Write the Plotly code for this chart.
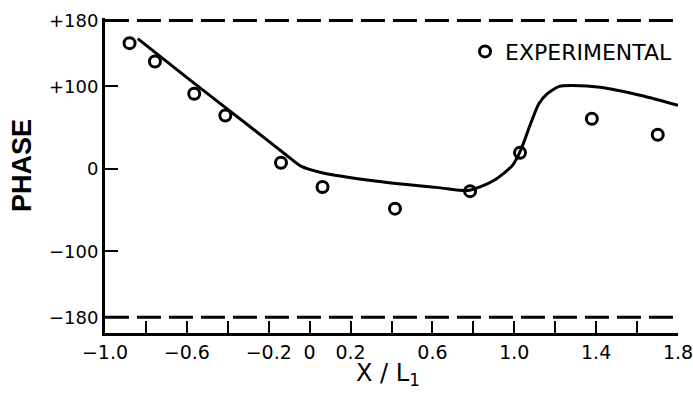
import plotly.graph_objects as go

# Experimental points
exp_x = [-0.88, -0.756, -0.564, -0.412, -0.14, 0.063, 0.417, 0.784, 1.028, 1.379, 1.701]
exp_y = [152.5, 130.3, 91.1, 64.8, 7.5, -22.0, -48.2, -27.0, 19.6, 60.8, 41.4]

# Theoretical curve
curve_x = [-0.84, -0.57, -0.30, -0.11, -0.04, 0.05, 0.33, 0.64, 0.78,
           0.90, 0.99, 1.03, 1.08, 1.12, 1.16, 1.22, 1.28, 1.42, 1.62, 1.80]
curve_y = [158, 105, 53, 16, 3, -4, -15, -23, -26,
           -14, 4, 22, 55, 79, 91, 100, 101, 99, 89, 77]

# Bounds (dashed)
bound_vals = [180, -180]

x_tickvals = [-1.0, -0.6, -0.2, 0.0, 0.2, 0.6, 1.0, 1.4, 1.8]
x_ticktext = ["\u22121.0", "\u22120.6", "\u22120.2", "0", "0.2", "0.6", "1.0", "1.4", "1.8"]
x_minor = [-0.8, -0.4, 0.4, 0.8, 1.2, 1.6]
y_tickvals = [180, 100, 0, -100, -180]
y_ticktext = ["+180", "+100", "0", "\u2212100", "\u2212180"]

x_range = [-1.0, 1.8]
y_range = [-199, 183]

fig = go.Figure()

for b in bound_vals:
    fig.add_trace(go.Scatter(
        x=x_range, y=[b, b], mode="lines",
        line=dict(color="black", width=3, dash="24px,8px"),
        showlegend=False, hoverinfo="skip", cliponaxis=False))

fig.add_trace(go.Scatter(
    x=curve_x, y=curve_y, mode="lines",
    line=dict(color="black", width=3, shape="spline", smoothing=0.7),
    showlegend=False, name="Theory"))

fig.add_trace(go.Scatter(
    x=exp_x, y=exp_y, mode="markers", name="EXPERIMENTAL",
    marker=dict(symbol="circle-open", size=11, color="black", line=dict(width=3, color="black")),
    showlegend=True))

fig.update_layout(
    width=693, height=396,
    margin=dict(l=105, r=15, t=18, b=63, autoexpand=False),
    paper_bgcolor="white", plot_bgcolor="white",
    font=dict(family="DejaVu Sans", color="black"),
    legend=dict(x=1.0, xanchor="right", y=0.96, yanchor="top",
                bgcolor="rgba(0,0,0,0)", font=dict(size=22, family="DejaVu Sans"),
                itemwidth=30),
    xaxis=dict(range=x_range, tickvals=x_tickvals, ticktext=x_ticktext,
               ticks="inside", ticklen=12, tickwidth=2, tickcolor="black",
               minor=dict(tickvals=x_minor, ticks="inside",
                          ticklen=12, tickwidth=2, tickcolor="black", showgrid=False),
               showline=True, linewidth=3, linecolor="black", automargin=False,
               showgrid=False, zeroline=False, ticklabeloverflow="allow",
               tickfont=dict(size=19, family="DejaVu Sans")),
    yaxis=dict(range=y_range, tickvals=y_tickvals, ticktext=y_ticktext,
               ticks="inside", ticklen=13, tickwidth=2, tickcolor="black",
               showline=True, linewidth=3, linecolor="black", automargin=False,
               showgrid=False, zeroline=False,
               tickfont=dict(size=18, family="DejaVu Sans")),
    annotations=[
        dict(text="PHASE", xref="paper", yref="paper", x=(22 - 105) / 573, y=(333 - 166) / 315,
             xanchor="center", yanchor="middle", textangle=-90, showarrow=False,
             font=dict(size=27, family="Liberation Sans", weight="bold")),
        dict(text="X / L<sub>1</sub>", xref="paper", yref="paper", x=(388 - 105) / 573, y=(333 - 374) / 315,
             xanchor="center", yanchor="middle", showarrow=False,
             font=dict(size=24, family="DejaVu Sans")),
    ],
)

fig.write_html("out.html")
